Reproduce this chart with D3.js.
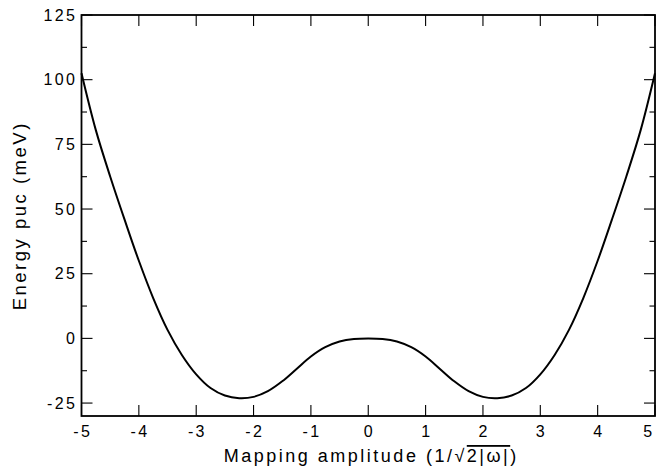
<!DOCTYPE html>
<html>
<head>
<meta charset="utf-8">
<script src="https://cdn.jsdelivr.net/npm/d3@7"></script>
<style>
  html, body { margin: 0; padding: 0; background: #fff; }
  svg { display: block; }
  text { font-family: "Liberation Sans", Arial, Helvetica, sans-serif; fill: #000; }
</style>
</head>
<body>
<svg id="chart" width="660" height="474"></svg>
<script>
// ---- data ----
const amplitude = [-5, -4.75, -4.5, -4.25, -4, -3.75, -3.5, -3.25, -3, -2.75, -2.5, -2.25, -2, -1.75, -1.5, -1.25, -1, -0.75, -0.5, -0.25, 0,
                   0.25, 0.5, 0.75, 1, 1.25, 1.5, 1.75, 2, 2.25, 2.5, 2.75, 3, 3.25, 3.5, 3.75, 4, 4.25, 4.5, 4.75, 5];
const energy = [102.5, 80.5, 62.6, 46.0, 30.0, 15.6, 3.3, -6.4, -13.9, -19.2, -22.1, -23.1, -22.6, -20.4, -16.6, -11.8, -7.0, -3.4, -1.2, -0.2, 0,
                -0.2, -1.2, -3.4, -7.0, -11.8, -16.6, -20.4, -22.6, -23.1, -22.1, -19.2, -13.9, -6.4, 3.3, 15.6, 30.0, 46.0, 62.6, 80.5, 102.5];
const xTicks = [-5, -4, -3, -2, -1, 0, 1, 2, 3, 4, 5];
const yTicks = [-25, 0, 25, 50, 75, 100, 125];
const yMinorTicks = [-12.5, 12.5, 37.5, 62.5, 87.5, 112.5];
const xDomain = [-5, 5];
const yDomain = [-30, 125];

// ---- layout ----
const svg = d3.select("#chart");
const L = 81.5, R = 655, T = 15, B = 416;
const x = d3.scaleLinear().domain(xDomain).range([L, R]);
const y = d3.scaleLinear().domain(yDomain).range([B, T]);

const majorLen = 11, minorLen = 5.5;
const g = svg.append("g");

// ticks (inward, on all four sides)
const tickG = g.append("g").attr("stroke", "#000").attr("stroke-width", 1.1);
xTicks.forEach(v => {
  tickG.append("line").attr("x1", x(v)).attr("x2", x(v)).attr("y1", B).attr("y2", B - majorLen);
  tickG.append("line").attr("x1", x(v)).attr("x2", x(v)).attr("y1", T).attr("y2", T + majorLen);
});
yTicks.forEach(v => {
  tickG.append("line").attr("x1", L).attr("x2", L + majorLen).attr("y1", y(v)).attr("y2", y(v));
  tickG.append("line").attr("x1", R).attr("x2", R - majorLen).attr("y1", y(v)).attr("y2", y(v));
});
yMinorTicks.forEach(v => {
  tickG.append("line").attr("x1", L).attr("x2", L + minorLen).attr("y1", y(v)).attr("y2", y(v));
  tickG.append("line").attr("x1", R).attr("x2", R - minorLen).attr("y1", y(v)).attr("y2", y(v));
});

// curve
const line = d3.line()
  .x((d, i) => x(amplitude[i]))
  .y(d => y(d))
  .curve(d3.curveCatmullRom.alpha(0.5));
g.append("path")
  .datum(energy)
  .attr("fill", "none")
  .attr("stroke", "#000")
  .attr("stroke-width", 2)
  .attr("d", line);

// frame
g.append("rect")
  .attr("x", L).attr("y", T).attr("width", R - L).attr("height", B - T)
  .attr("fill", "none").attr("stroke", "#000").attr("stroke-width", 1.8);

// tick labels
const fs = 16, ls = 2.4;
xTicks.forEach(v => {
  g.append("text").attr("x", Math.min(x(v) + ls / 2, 649)).attr("y", B + 21)
    .attr("text-anchor", "middle").attr("font-size", fs)
    .attr("letter-spacing", ls).text(v);
});
yTicks.forEach(v => {
  g.append("text").attr("x", 75 + ls).attr("y", y(v)).attr("dy", "0.36em")
    .attr("text-anchor", "end").attr("font-size", fs)
    .attr("letter-spacing", ls).text(v);
});

// axis titles
const tls = 2.5;
const xt = g.append("text")
  .attr("x", 370 + tls / 2).attr("y", 462)
  .attr("text-anchor", "middle").attr("font-size", 18)
  .attr("letter-spacing", tls);
xt.append("tspan").text("Mapping amplitude (1/\u221A");
xt.append("tspan").attr("text-decoration", "overline").style("text-decoration", "overline").text("2|\u03C9|");
xt.append("tspan").text(")");

g.append("text")
  .attr("transform", `translate(26,${217 - tls / 2}) rotate(-90)`)
  .attr("text-anchor", "middle").attr("font-size", 18.5)
  .attr("letter-spacing", tls)
  .text("Energy puc (meV)");
</script>
</body>
</html>
